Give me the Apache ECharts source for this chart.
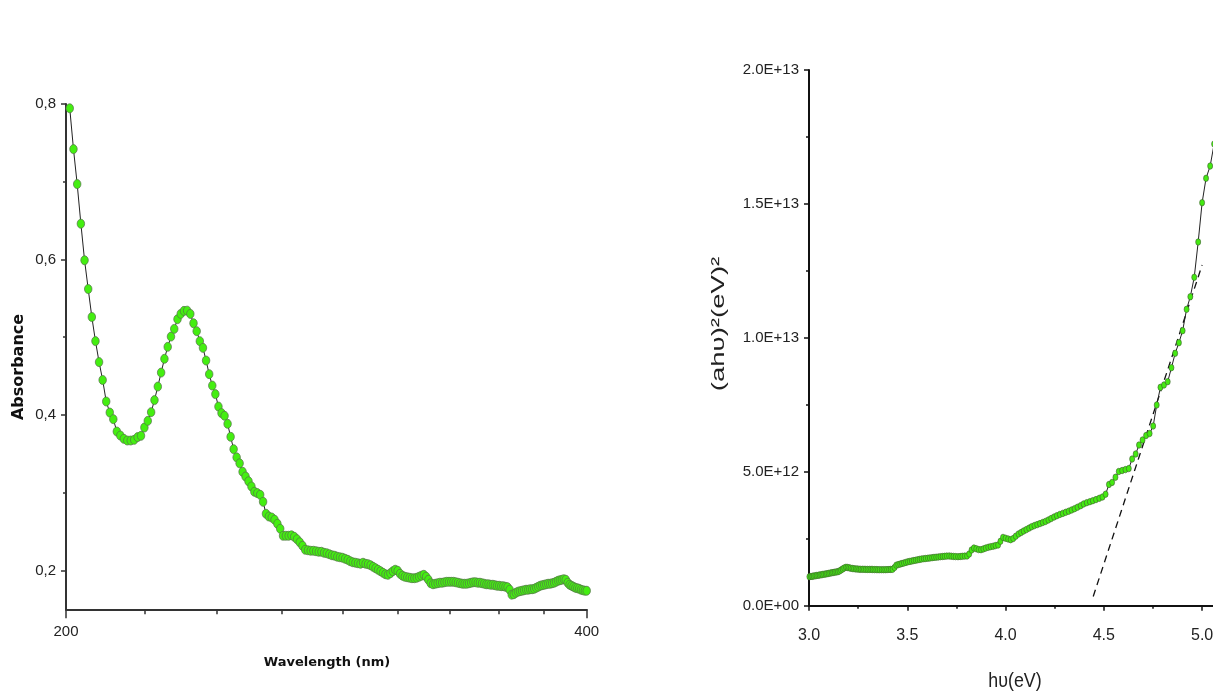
<!DOCTYPE html>
<html><head><meta charset="utf-8">
<script src="https://cdn.jsdelivr.net/npm/echarts@6/dist/echarts.min.js"></script>
<style>html,body{margin:0;padding:0;background:#fff}#c{width:1213px;height:693px}</style>
</head><body><div id="c"></div>
<script>
// ---- Left panel: UV-Vis absorbance spectrum ----
const wavelengthNm = [
201,202,203,204,205,206,207,208,209,210,211,212,213,214,215,216,217,218,219,220,
221,222,223,224,225,226,227,228,229,230,231,232,233,234,235,236,237,238,239,240,
241,242,243,244,245,246,247,248,249,250,251,252,253,254,255,256,257,258,259,260,
261,262,263,264,265,266,267,268,269,270,271,272,273,274,275,276,277,278,279,280,
281,282,283,284,285,286,287,288,289,290,291,292,293,294,295,296,297,298,299,300,
301,302,303,304,305,306,307,308,309,310,311,312,313,314,315,316,317,318,319,320,
321,322,323,324,325,326,327,328,329,330,331,332,333,334,335,336,337,338,339,340,
341,342,343,344,345,346,347,348,349,350,351,352,353,354,355,356,357,358,359,360,
361,362,363,364,365,366,367,368,369,370,371,372,373,374,375,376,377,378,379,380,
381,382,383,384,385,386,387,388,389,390,391,392,393,394,395,396,397,398,399,400];
const absorbance = [
0.7945,0.742,0.697,0.646,0.599,0.562,0.526,0.495,0.468,0.445,
0.4173,0.4031,0.3946,0.3787,0.3735,0.3693,0.3671,0.3671,0.368,0.3715,
0.3732,0.3838,0.3924,0.4036,0.4191,0.4365,0.4545,0.4722,0.4876,0.5008,
0.5107,0.5232,0.530,0.5339,0.5342,0.530,0.518,0.5078,0.4949,0.4863,
0.470,0.4525,0.4378,0.4268,0.4108,0.4024,0.3989,0.3886,0.3719,0.356,
0.3455,0.3378,0.3269,0.3208,0.3147,0.308,0.3012,0.2995,0.2973,0.2883,
0.2729,0.2694,0.2681,0.2652,0.26,0.2536,0.2446,0.2446,0.2446,0.2452,
0.2433,0.2401,0.2362,0.2317,0.2266,0.2259,0.2253,0.2253,0.2247,0.224,
0.224,0.2227,0.2221,0.2208,0.2195,0.2189,0.2176,0.2169,0.2163,0.215,
0.2137,0.2118,0.2105,0.2099,0.2092,0.2086,0.2099,0.2086,0.208,0.2067,
0.2047,0.2028,0.2009,0.199,0.197,0.1951,0.1944,0.1964,0.199,0.2009,
0.1996,0.1957,0.1932,0.1919,0.1912,0.1906,0.19,0.19,0.1906,0.1919,
0.1932,0.1944,0.1919,0.188,0.1835,0.1822,0.1829,0.1835,0.1842,0.1842,
0.1848,0.1854,0.1854,0.1854,0.1854,0.1848,0.1842,0.1835,0.1829,0.1829,
0.1829,0.1835,0.1842,0.1848,0.1848,0.1842,0.1842,0.1835,0.1829,0.1822,
0.1822,0.1816,0.1816,0.181,0.1803,0.1803,0.1797,0.1797,0.179,0.1784,
0.1752,0.1688,0.1694,0.1713,0.1726,0.1733,0.1739,0.1745,0.1752,0.1752,
0.1758,0.1758,0.1764,0.1777,0.179,0.1803,0.181,0.1816,0.1822,0.1829,
0.1829,0.1835,0.1842,0.1854,0.1867,0.1874,0.188,0.1887,0.188,0.1842,
0.1816,0.1803,0.179,0.1777,0.1771,0.1764,0.1752,0.1745,0.1739,0.1739];
const absLabelTicks = [0.2, 0.4, 0.6, 0.8];
const absMinorTicks = [0.3, 0.5, 0.7];
const wlLabelTicks = [200, 400];
const wlMinorTicks = [222.2, 244.4, 266.7, 288.9, 311.1, 333.3, 355.6, 377.8];

// ---- Right panel: Tauc plot ----
const photonEnergyEv = [
3.002,3.010,3.017,3.024,3.032,3.039,3.047,3.054,3.062,3.069,3.077,3.085,3.092,3.100,3.108,3.116,3.123,3.131,3.139,3.147,
3.155,3.163,3.171,3.179,3.188,3.196,3.204,3.212,3.221,3.229,3.238,3.246,3.255,3.263,3.272,3.280,3.289,3.298,3.307,3.316,
3.324,3.333,3.342,3.351,3.360,3.370,3.379,3.388,3.397,3.407,3.416,3.425,3.435,3.444,3.454,3.464,3.473,3.483,3.493,3.503,
3.513,3.523,3.533,3.543,3.553,3.563,3.573,3.584,3.594,3.605,3.615,3.626,3.636,3.647,3.658,3.669,3.680,3.690,3.701,3.713,
3.724,3.735,3.746,3.758,3.769,3.780,3.792,3.804,3.815,3.827,3.839,3.851,3.863,3.875,3.887,3.899,3.912,3.924,3.937,3.949,
3.962,3.974,3.987,4.000,4.013,4.026,4.039,4.052,4.066,4.079,4.092,4.106,4.120,4.133,4.147,4.161,4.175,4.189,4.203,4.218,
4.232,4.247,4.261,4.276,4.291,4.306,4.321,4.336,4.351,4.366,4.382,4.397,4.413,4.429,4.444,4.460,4.477,4.493,4.509,4.526,
4.542,4.559,4.576,4.593,4.610,4.627,4.644,4.662,4.679,4.697,4.715,4.733,4.751,4.769,4.788,4.806,4.825,4.844,4.863,4.882,
4.901,4.921,4.940,4.960,4.980,5.000,5.020,5.041,5.061,5.082];
// (a h nu)^2 in units of 1E+12 (eV)^2
const taucValueE12 = [
1.086,1.094,1.101,1.112,1.120,1.131,1.138,1.150,1.157,1.168,1.180,1.187,1.198,1.209,1.221,1.232,1.243,1.254,1.265,1.273,
1.299,1.336,1.374,1.411,1.437,1.430,1.418,1.403,1.392,1.385,1.377,1.374,1.366,1.362,1.362,1.362,1.359,1.359,1.359,1.359,
1.355,1.351,1.351,1.348,1.348,1.348,1.348,1.348,1.351,1.355,1.359,1.362,1.430,1.515,1.538,1.557,1.579,1.598,1.620,1.642,
1.657,1.672,1.687,1.702,1.717,1.732,1.747,1.758,1.766,1.777,1.784,1.795,1.807,1.814,1.822,1.833,1.840,1.848,1.855,1.859,
1.851,1.844,1.836,1.833,1.840,1.848,1.855,1.859,1.934,2.083,2.157,2.128,2.098,2.094,2.124,2.154,2.184,2.206,2.225,2.247,
2.269,2.408,2.553,2.523,2.493,2.467,2.512,2.598,2.680,2.736,2.792,2.844,2.900,2.953,2.994,3.031,3.068,3.109,3.150,3.203,
3.259,3.315,3.363,3.408,3.449,3.490,3.531,3.576,3.624,3.680,3.736,3.800,3.848,3.886,3.923,3.964,4.013,4.061,4.166,4.528,
4.606,4.797,5.013,5.050,5.084,5.121,5.480,5.666,6.002,6.189,6.357,6.431,6.711,7.495,8.156,8.242,8.365,8.888,9.425,9.821,
10.269,11.067,11.538,12.262,13.580,15.047,15.957,16.416,17.238,18.768];
// Linear extrapolation (band-gap fit), endpoints
const fitEnergyEv = [4.446, 5.000];
const fitValueE12 = [0.35, 12.72];
const evLabelTicks = [3.0, 3.5, 4.0, 4.5, 5.0];
const evMinorTicks = [3.25, 3.75, 4.25, 4.75];
const taucLabelTicks = [0, 5e12, 1e13, 1.5e13, 2e13];
const taucMinorTicks = [2.5e12, 7.5e12, 1.25e13, 1.75e13];

const E12 = 1e12;
const leftData = wavelengthNm.map((w, i) => [w, absorbance[i]]);
const rightData = photonEnergyEv.map((e, i) => [e, taucValueE12[i] * E12]);
const fitData = fitEnergyEv.map((e, i) => [e, fitValueE12[i] * E12]);

const SANS = "'Liberation Sans', Arial, sans-serif";
const sciFmt = v => {
  if (v === 0) return '0.0E+00';
  const s = v.toExponential(1).toUpperCase();
  return s.replace(/E([+-])(\d)$/, 'E$10$2');
};

const chart = echarts.init(document.getElementById('c'), null, {renderer: 'canvas'});
chart.setOption({
  animation: false,
  backgroundColor: '#ffffff',
  grid: [
    {left: 66, top: 104, width: 520.7, height: 505.3, containLabel: false, outerBoundsMode: 'none'},
    {left: 809, top: 70, width: 404, height: 535.8, containLabel: false, outerBoundsMode: 'none'}
  ],
  xAxis: [
    {type: 'log', gridIndex: 0, min: 200, max: 400, position: 'bottom',
     axisLine: {onZero: false, lineStyle: {color: '#333', width: 2}},
     axisTick: {customValues: wlLabelTicks, length: 9, lineStyle: {color: '#333', width: 1.5}},
     axisLabel: {customValues: wlLabelTicks, margin: 15, fontSize: 15, color: '#222', fontFamily: SANS},
     splitLine: {show: false}, minorSplitLine: {show: false}},
    {type: 'log', gridIndex: 0, min: 200, max: 400, position: 'bottom',
     axisLine: {show: false, onZero: false},
     axisTick: {customValues: wlMinorTicks, length: 5, lineStyle: {color: '#333', width: 1.5}},
     axisLabel: {show: false}, splitLine: {show: false}},
    {type: 'value', gridIndex: 1, min: 3, max: 5.0554, position: 'bottom',
     axisLine: {onZero: false, lineStyle: {color: '#111', width: 2}},
     axisTick: {customValues: evLabelTicks, length: 5, lineStyle: {color: '#111', width: 1.5}},
     axisLabel: {customValues: evLabelTicks, formatter: v => Number(v).toFixed(1), margin: 22, fontSize: 16, color: '#222', fontFamily: SANS},
     splitLine: {show: false}},
    {type: 'value', gridIndex: 1, min: 3, max: 5.0554, position: 'bottom',
     axisLine: {show: false, onZero: false},
     axisTick: {customValues: evMinorTicks, length: 3, lineStyle: {color: '#111', width: 1.5}},
     axisLabel: {show: false}, splitLine: {show: false}}
  ],
  yAxis: [
    {type: 'value', gridIndex: 0, min: 0.15, max: 0.8, position: 'left',
     axisLine: {show: true, onZero: false, lineStyle: {color: '#333', width: 2}},
     axisTick: {show: true, customValues: absLabelTicks, length: 5, lineStyle: {color: '#333', width: 1.5}},
     axisLabel: {customValues: absLabelTicks, formatter: v => Number(v).toFixed(1).replace('.', ','), margin: 10, fontSize: 15, color: '#222', fontFamily: SANS},
     splitLine: {show: false}},
    {type: 'value', gridIndex: 0, min: 0.15, max: 0.8, position: 'left',
     axisLine: {show: false, onZero: false},
     axisTick: {show: true, customValues: absMinorTicks, length: 3, lineStyle: {color: '#333', width: 1.5}},
     axisLabel: {show: false}, splitLine: {show: false}},
    {type: 'value', gridIndex: 1, min: 0, max: 2e13, position: 'left',
     axisLine: {show: true, onZero: false, lineStyle: {color: '#111', width: 2}},
     axisTick: {show: true, customValues: taucLabelTicks, length: 5, lineStyle: {color: '#111', width: 1.5}},
     axisLabel: {customValues: taucLabelTicks, formatter: v => sciFmt(Number(v)), margin: 10, fontSize: 15, color: '#222', fontFamily: SANS},
     splitLine: {show: false}},
    {type: 'value', gridIndex: 1, min: 0, max: 2e13, position: 'left',
     axisLine: {show: false, onZero: false},
     axisTick: {show: true, customValues: taucMinorTicks, length: 3, lineStyle: {color: '#111', width: 1.5}},
     axisLabel: {show: false}, splitLine: {show: false}}
  ],
  series: [
    {type: 'line', xAxisIndex: 0, yAxisIndex: 0, data: leftData,
     symbol: 'circle', symbolSize: [7.5, 9], showSymbol: true,
     itemStyle: {color: '#44ee11', borderColor: '#55704a', borderWidth: 0.7},
     lineStyle: {color: '#222', width: 1}, z: 3},
    {type: 'line', xAxisIndex: 2, yAxisIndex: 2, data: fitData, clip: false,
     symbol: 'none', lineStyle: {color: '#111', width: 1.3, type: [7, 5]}, z: 2},
    {type: 'line', xAxisIndex: 2, yAxisIndex: 2, data: rightData, clip: false,
     symbol: 'circle', symbolSize: [5, 6.5], showSymbol: true,
     itemStyle: {color: '#44ea11', borderColor: '#3f5a32', borderWidth: 0.6},
     lineStyle: {color: '#222', width: 1}, z: 3}
  ],
  graphic: [
    {type: 'text', x: 19, y: 367, rotation: Math.PI / 2,
     style: {text: 'Absorbance', font: "bold 16px 'DejaVu Sans', Verdana, sans-serif", fill: '#111', textAlign: 'center', textVerticalAlign: 'middle'}},
    {type: 'text', x: 327, y: 663,
     style: {text: 'Wavelength (nm)', font: "bold 13px 'DejaVu Sans', Verdana, sans-serif", fill: '#111', textAlign: 'center', textVerticalAlign: 'middle'}},
    {type: 'text', x: 719, y: 324, rotation: Math.PI / 2, scaleX: 1.45, scaleY: 1,
     style: {text: '(ahυ)²(eV)²', font: "19px " + SANS, fill: '#222', textAlign: 'center', textVerticalAlign: 'middle'}},
    {type: 'text', x: 1015, y: 681, scaleX: 0.85, scaleY: 1,
     style: {text: 'hυ(eV)', font: "21px " + SANS, fill: '#222', textAlign: 'center', textVerticalAlign: 'middle'}}
  ]
});
</script></body></html>
